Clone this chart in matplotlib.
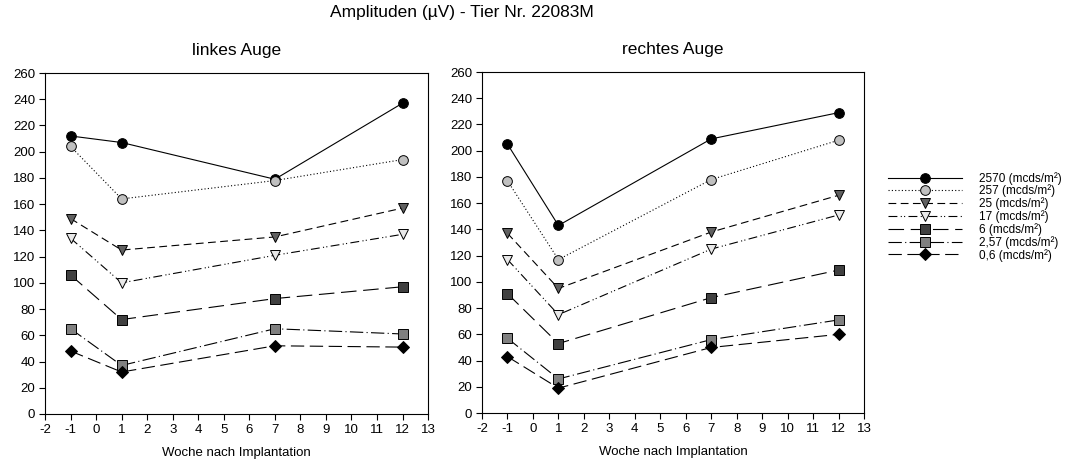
import matplotlib
matplotlib.use("Agg")
import matplotlib.pyplot as plt

plt.rcParams['font.family'] = ['Liberation Sans', 'DejaVu Sans']
plt.rcParams['axes.unicode_minus'] = False

weeks = [-1, 1, 7, 12]

series_names = ["2570", "257", "25", "17", "6", "2,57", "0,6"]

links = {
    "2570": [212, 207, 179, 237],
    "257": [204, 164, 178, 194],
    "25": [149, 125, 135, 157],
    "17": [134, 100, 121, 137],
    "6": [106, 72, 88, 97],
    "2,57": [65, 37, 65, 61],
    "0,6": [48, 32, 52, 51],
}

rechts = {
    "2570": [205, 143, 209, 229],
    "257": [177, 117, 178, 208],
    "25": [137, 95, 138, 166],
    "17": [117, 75, 125, 151],
    "6": [91, 53, 88, 109],
    "2,57": [57, 26, 56, 71],
    "0,6": [43, 19, 50, 60],
}

# line style, marker, face colour per series
styles = {
    "2570": ('-', 'o', 'black'),
    "257": ((0, (1, 2)), 'o', '#c0c0c0'),
    "25": ((0, (7, 4)), 'v', '#606060'),
    "17": ((0, (8, 3, 1, 2, 1, 3)), 'v', '#e8e8e8'),
    "6": ((0, (14, 6)), 's', '#404040'),
    "2,57": ((0, (12, 3, 1, 3)), 's', '#808080'),
    "0,6": ((0, (12, 5)), 'D', 'black'),
}

fig = plt.figure(figsize=(10.75, 4.61), dpi=100)
ax1 = fig.add_axes([0.0419, 0.102, 0.3563, 0.7396])
ax2 = fig.add_axes([0.4484, 0.104, 0.3553, 0.7398])


def draw(ax, data, title):
    for name in series_names:
        ls, mk, fc = styles[name]
        ms = 6.5 if mk == 'D' else 7
        ax.plot(weeks, data[name], linestyle=ls, color='black', linewidth=0.8,
                marker=mk, markersize=ms, markerfacecolor=fc,
                markeredgecolor='black', markeredgewidth=0.7,
                label=name + " (mcds/m²)")
    ax.set_xlim(-2, 13)
    ax.set_ylim(0, 260)
    ax.set_xticks(range(-2, 14))
    ax.set_yticks(range(0, 261, 20))
    ax.tick_params(direction='out', length=4, width=0.8, labelsize=9.5, pad=3)
    for sp in ax.spines.values():
        sp.set_linewidth(0.8)
    ax.set_title(title, fontsize=12.5, pad=13)
    ax.set_xlabel("Woche nach Implantation", fontsize=9.5, labelpad=8)


draw(ax1, links, "linkes Auge")
draw(ax2, rechts, "rechtes Auge")

fig.text(0.4293, 0.99, "Amplituden (µV) - Tier Nr. 22083M", ha='center', va='top', fontsize=12.5)

handles, labels = ax2.get_legend_handles_labels()
fig.legend(handles, labels, loc='upper left', bbox_to_anchor=(0.822, 0.6375),
           frameon=False, fontsize=8.5, handlelength=6.2, handletextpad=1.5,
           labelspacing=0.0, numpoints=1, borderaxespad=0)

fig.savefig("out.png", dpi=100)
